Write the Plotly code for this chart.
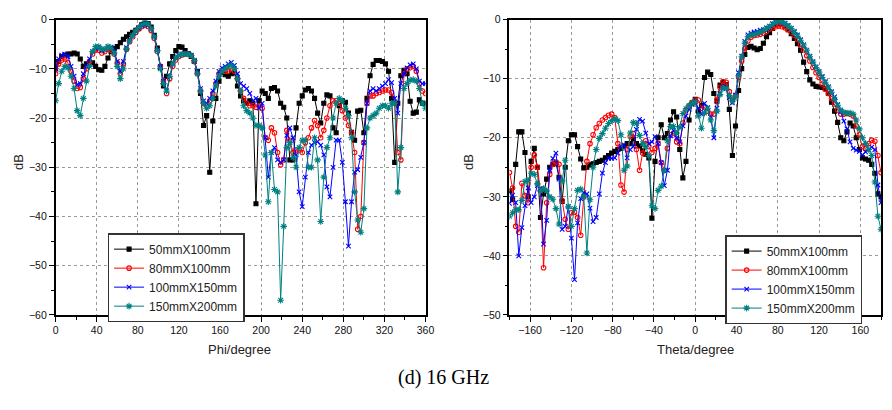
import plotly.graph_objects as go

# ---------------- data ----------------
phi = list(range(0, 361, 3))
theta = list(range(-180, 181, 3))

names = ["50mmX100mm", "80mmX100mm", "100mmX150mm", "150mmX200mm"]

phi_50x100 = [
    -10, -8.5, -7.5, -7.2, -7.0, -7.0, -6.8, -7.0, -8.0, -9.5, -9.0, -8.7, -8.8, -9.5, -10.2, -10.3,
    -9.5, -7.8, -6.5, -5.9, -5.5, -4.7, -4.0, -3.5, -3.0, -2.6, -2.2, -1.7, -1.0, -0.7, -0.8, -1.5,
    -3.2, -5.8, -9.7, -13.5, -11.5, -9.0, -7.5, -6.3, -5.5, -5.6, -6.3, -6.9, -7.5, -8.5, -10.5, -15,
    -21.5, -19.5, -31, -20.6, -16, -12.5, -10.7, -11.2, -11.5, -11.0, -10.8, -13.5, -15.5, -16.5, -17, -16.5,
    -17, -37.4, -16.5, -14.5, -15, -16, -14, -13.8, -14.5, -17, -17.8, -20, -28.5, -28.5, -22, -17,
    -15.5, -14.3, -14, -14.5, -16, -19, -21, -17, -15.3, -15.5, -22, -23, -17.5, -16.5, -16.8, -19,
    -22.9, -24.5, -18.6, -18.4, -23, -16, -11.4, -9.1, -8.3, -8.3, -8.5, -9, -10.5, -16, -29, -17,
    -11.4, -10.3, -11, -16.6, -19, -18.8, -16.3, -17, -17]

phi_80x100 = [
    -11, -9, -8.2, -8.0, -8.8, -10.5, -12.5, -14.0, -13.8, -12, -10, -8.5, -7, -6.2, -6.2, -6.8,
    -6.5, -6.0, -6.2, -7.0, -8.8, -11.0, -9, -6.0, -4.5, -3.5, -2.6, -1.9, -1.4, -1.2, -1.4, -2.2,
    -3.8, -6.5, -9.5, -12.5, -15, -12, -9.5, -8.2, -7.5, -7.2, -7.0, -7.0, -7.3, -8.5, -11, -14.5,
    -17, -17.5, -16.5, -15, -13, -11, -10.3, -10.5, -10.5, -10.0, -10.5, -12, -14.5, -16, -17, -17.5,
    -17.5, -17.8, -17.5, -18, -24, -24.5, -22, -23, -27, -29.5, -28.5, -22.5, -24.5, -27, -26.5, -26.5,
    -27, -25, -24, -22, -20.5, -21.5, -24, -22.5, -20, -17.5, -16.5, -16.5, -17, -18.5, -20, -21.5,
    -23, -27, -42.6, -40, -25, -17, -15.5, -15.5, -15, -14.8, -14.5, -14.3, -14.3, -14.8, -17, -27,
    -28.5, -11, -10, -9.8, -9.5, -10.5, -13, -14.5, -15]

phi_100x150 = [
    -10, -8, -7.2, -7.0, -7.5, -9.5, -11.5, -13.2, -13, -11, -9.5, -8, -6.5, -5.8, -5.7, -6.3,
    -6.0, -5.5, -5.6, -6.4, -8.5, -10.5, -8.5, -5.7, -4.3, -3.3, -2.4, -1.7, -1.2, -1.0, -1.1, -1.9,
    -3.5, -6.2, -9.5, -12.5, -14.5, -11.5, -9, -7.8, -7.2, -7.0, -6.9, -7.0, -7.2, -8.3, -10.5, -14,
    -16.5, -17, -16, -14.5, -12.5, -10.5, -9.8, -9.5, -9.0, -8.7, -9.3, -11, -13, -13.5, -14, -15,
    -16.5, -16, -18, -17, -24, -32, -27, -26, -28.5, -29, -28.5, -23.5, -22, -24, -27.5, -35,
    -38, -32, -27, -25.5, -25, -24.8, -25.5, -27.5, -34, -36, -30, -24.5, -24.5, -29, -37, -46,
    -37, -31, -30.5, -28, -25, -17, -14.5, -14, -14.5, -14, -13.5, -13, -12.2, -12.8, -16, -19,
    -13, -11, -9.8, -9.2, -9.0, -10, -12.5, -13, -13]

phi_150x200 = [
    -16.5, -13, -10.5, -9.5, -9.8, -11.5, -14, -18.5, -19.5, -16, -12.5, -9.5, -6.5, -5.5, -5.5, -6.0,
    -6.0, -5.5, -5.8, -6.8, -9.5, -12, -10, -6.0, -4.3, -3.2, -2.3, -1.6, -1.0, -0.8, -0.9, -1.8,
    -3.5, -6.3, -10, -13, -14.5, -11.5, -9, -7.8, -7.3, -7.0, -7.0, -7.0, -7.3, -8.3, -11, -14.5,
    -17, -18, -17.5, -16, -13.5, -11.5, -10.5, -10, -9.5, -9.3, -10, -12, -14.5, -17.5, -18.5, -19,
    -20, -21.5, -21.5, -22, -27.5, -37, -27, -34.5, -35, -57, -42, -26, -25, -28, -30, -26,
    -24.5, -24.5, -30, -30, -24, -28.5, -41, -32, -26, -24, -20, -17, -16, -16.5, -18, -19.5,
    -24, -35, -40.7, -43.2, -38.4, -22, -20, -19.5, -19, -18, -17.5, -17.5, -18, -17, -17, -35,
    -26, -14, -13, -12.3, -12.2, -12.5, -14, -17, -18]

theta_50x100 = [
    -29, -30.5, -24.5, -19, -19, -22.5, -30, -24, -21.8, -25, -33.5, -29.5, -27, -25, -24.5, -24.3,
    -26.7, -30.8, -25, -20.5, -19.5, -19.5, -21.5, -23.6, -25.1, -25, -24.6, -24.4, -24.2, -24, -23.8, -23.4,
    -23, -22.6, -22.3, -22, -21.8, -21.4, -21, -21, -20.2, -21, -21.4, -22.2, -22.8, -23.4, -33.6, -24,
    -20, -17.8, -20, -19.3, -17, -15.6, -16.5, -22, -26.8, -24, -17, -14.1, -13.5, -15.5, -14.5, -9.8,
    -8.9, -9.3, -12.5, -13.8, -11.1, -10.6, -11, -15.2, -23, -18, -12, -8.3, -5.9, -4.7, -4.5, -4.8,
    -5.1, -4.9, -4.0, -2.9, -2.2, -1.5, -0.9, -0.7, -0.7, -1.1, -1.7, -2.4, -3.2, -4.1, -5.2, -7.2,
    -8.8, -10.2, -10.9, -11.3, -11.4, -11.5, -11.7, -12.5, -14, -15.5, -17.4, -20, -20.5, -19, -17.5, -18,
    -20, -22, -23.4, -23.6, -23.8, -24.5, -26, -29.5, -30]

theta_80x100 = [
    -25.9, -28.5, -35, -36, -27.7, -29.8, -31, -25, -22.9, -25, -28.9, -42, -31, -26.2, -24.5, -24.1,
    -24.5, -30.6, -33.8, -35.5, -32.7, -32.6, -33.5, -36.5, -30, -24, -21, -19.5, -18.3, -17.6, -17, -16.6,
    -16.2, -16, -16.6, -21, -28, -29.2, -22, -19.8, -19.3, -22, -25.5, -22.6, -20.5, -21.5, -22.5, -21.8,
    -21, -24.2, -25.5, -21.8, -19.5, -19.2, -20.7, -21, -17.5, -15.3, -14.6, -14.1, -13.6, -13.6, -15, -14.8,
    -15.5, -16, -16, -13.5, -11.5, -10.5, -10.6, -12.2, -13.6, -12.8, -9.8, -7, -4.9, -3.6, -3.0, -2.7,
    -2.6, -2.5, -2.3, -2.0, -1.6, -1.4, -1.2, -1.1, -1.2, -1.4, -1.7, -2.1, -2.7, -3.4, -4.2, -5.1,
    -6.1, -7.0, -8.1, -9.0, -9.8, -10.9, -11.8, -12.5, -13.4, -14.3, -15.3, -16, -16, -15.9, -16, -16.3,
    -18, -19.5, -21.5, -21.8, -21, -20.4, -20.6, -23, -25.9]

theta_100x150 = [
    -31.1, -29.7, -31, -40, -35.2, -31.5, -28.5, -31, -30, -28.1, -28.6, -38, -34, -25.5, -23.5, -22.6,
    -27, -35.5, -35, -31.6, -37, -44, -34.4, -30.3, -29.3, -29.5, -31.9, -34.2, -33.5, -29.5, -26, -24.2,
    -23.5, -23.5, -23.4, -22.6, -21.4, -21.2, -23.4, -22, -21.5, -18.6, -16.9, -17.2, -19.2, -21, -20.7, -19.8,
    -21, -24.2, -28.1, -25.5, -19.7, -18.8, -20, -20.7, -18, -16.3, -15.2, -14.4, -13.9, -15, -16, -14.2,
    -14.9, -16.5, -20, -15, -12.5, -11.4, -11.7, -13.2, -14.1, -12.8, -9, -6.2, -3.7, -2.6, -2.3, -2.1,
    -2.0, -1.8, -1.7, -1.4, -1.1, -0.7, -0.4, -0.3, -0.4, -0.6, -1.0, -1.5, -2.0, -2.6, -3.4, -4.3,
    -5.2, -6.2, -7.1, -8.0, -8.8, -9.6, -10.5, -11.4, -12.2, -13.1, -14.4, -15.6, -17.2, -18.5, -20.7, -21.8,
    -22.1, -22.3, -22.9, -22.4, -22, -21.6, -22, -28, -31]

theta_150x200 = [
    -33.3, -32.7, -32.2, -32.2, -30.6, -27.4, -27.2, -26, -26.2, -27.8, -29, -28.6, -29, -30, -30.4, -32,
    -34.6, -27.3, -23.8, -31.7, -35, -32, -28.9, -28.7, -30, -39.5, -30.5, -25, -22, -20.1, -19.3, -18.4,
    -17.6, -17.1, -16.8, -17.1, -19.5, -25.5, -24.8, -19.2, -17.4, -17.6, -19.6, -21, -21.5, -23, -31.5, -32,
    -28.9, -28.2, -25.5, -20.5, -18.1, -18.1, -19.2, -18.2, -15.9, -15.1, -14.6, -14.1, -13.9, -16.3, -18.4, -15.8,
    -15, -17, -18.8, -15.5, -12.7, -11.6, -11.6, -12.9, -13.8, -13, -9.5, -6.3, -4, -2.9, -2.6, -2.5,
    -2.3, -2.1, -1.8, -1.5, -1.2, -0.8, -0.4, -0.3, -0.4, -0.7, -1.1, -1.5, -2.2, -2.8, -3.5, -4.3,
    -5.2, -6.3, -7.2, -8.1, -8.9, -9.8, -10.6, -11.4, -12.3, -13.5, -14.5, -15.3, -15.7, -15.8, -15.8, -16,
    -17, -18.5, -20, -21, -22, -23, -27.5, -33.3, -35.5]

phi_series = [phi_50x100, phi_80x100, phi_100x150, phi_150x200]
theta_series = [theta_50x100, theta_80x100, theta_100x150, theta_150x200]

# ---------------- styles ----------------
colors = ["#000000", "#ff0000", "#0000ff", "#008080"]
symbols = ["square", "circle-open", "x-thin-open", "asterisk-open"]
msizes = [4, 4.5, 4.5, 5.5]

W, H = 892, 410
FONT = "Liberation Sans, Arial, sans-serif"

fig = go.Figure()
for i in range(4):
    fig.add_trace(go.Scatter(
        x=phi, y=phi_series[i], name=names[i], mode="lines+markers",
        line=dict(color=colors[i], width=1),
        marker=dict(symbol=symbols[i], size=msizes[i], color=colors[i],
                    line=dict(color=colors[i], width=1.1)),
        xaxis="x", yaxis="y", legend="legend"))
for i in range(4):
    fig.add_trace(go.Scatter(
        x=theta, y=theta_series[i], name=names[i], mode="lines+markers",
        line=dict(color=colors[i], width=1),
        marker=dict(symbol=symbols[i], size=msizes[i], color=colors[i],
                    line=dict(color=colors[i], width=1.1)),
        xaxis="x2", yaxis="y2", legend="legend2"))

ydom = [1 - 318.3 / H, 1 - 14 / H]
xdom1 = [53.3 / W, 428.3 / W]
xdom2 = [513.4 / W, 890.0 / W]

def xax(dom, rng, tick0, anchor):
    return dict(domain=dom, range=rng, anchor=anchor, tick0=tick0, dtick=40,
                ticks="outside", ticklen=5, tickwidth=1.2, tickcolor="#000",
                showline=True, linecolor="#000", linewidth=1.5, mirror=True,
                showgrid=True, gridcolor="#9a9a9a", gridwidth=1, griddash="dot",
                zeroline=False, tickfont=dict(family=FONT, size=10.5, color="#111"),
                minor=dict(dtick=20, ticks="outside", ticklen=3, tickcolor="#000", showgrid=False))

def yax(dom, rng, anchor):
    return dict(domain=dom, range=rng, anchor=anchor, dtick=10,
                ticks="outside", ticklen=5, tickwidth=1.2, tickcolor="#000",
                showline=True, linecolor="#000", linewidth=1.5, mirror=True,
                showgrid=True, gridcolor="#9a9a9a", gridwidth=1, griddash="dot",
                zeroline=False, tickfont=dict(family=FONT, size=10.5, color="#111"),
                minor=dict(dtick=5, ticks="outside", ticklen=3, tickcolor="#000", showgrid=False))

def mirror_x(over, anchor, rng, tick0):
    return dict(overlaying=over, anchor=anchor, side="top", range=rng, tick0=tick0, dtick=40,
                ticks="inside", ticklen=4, tickwidth=1.2, tickcolor="#000",
                showticklabels=False, showgrid=False, showline=False, zeroline=False,
                minor=dict(dtick=20, ticks="inside", ticklen=2.5, tickcolor="#000", showgrid=False))

def mirror_y(over, anchor, rng):
    return dict(overlaying=over, anchor=anchor, side="right", range=rng, dtick=10,
                ticks="inside", ticklen=4, tickwidth=1.2, tickcolor="#000",
                showticklabels=False, showgrid=False, showline=False, zeroline=False,
                minor=dict(dtick=5, ticks="inside", ticklen=2.5, tickcolor="#000", showgrid=False))

leg_common = dict(xanchor="left", yanchor="top", bgcolor="white",
                  bordercolor="#333", borderwidth=1.5,
                  font=dict(family=FONT, size=12, color="#222"),
                  tracegroupgap=0)

fig.update_layout(
    width=W, height=H, margin=dict(l=0, r=0, t=0, b=0),
    paper_bgcolor="white", plot_bgcolor="white",
    xaxis=xax(xdom1, [0, 360], 0, "y"),
    yaxis=yax(ydom, [-60, 0], "x"),
    xaxis2=xax(xdom2, [-180, 180], -160, "y2"),
    yaxis2=yax(ydom, [-50, 0], "x2"),
    xaxis3=mirror_x("x", "y", [0, 360], 0),
    yaxis3=mirror_y("y", "x", [-60, 0]),
    xaxis4=mirror_x("x2", "y2", [-180, 180], -160),
    yaxis4=mirror_y("y2", "x2", [-50, 0]),
    legend=dict(x=106 / W, y=1 - 234 / H, **leg_common),
    legend2=dict(x=732 / W, y=1 - 236 / H, **leg_common),
    showlegend=True,
)

ann_font = dict(family=FONT, size=13, color="#222")
annotations = [
    dict(text="dB", x=15 / W, y=1 - 161 / H, textangle=-90),
    dict(text="Phi/degree", x=240 / W, y=1 - 354 / H),
    dict(text="dB", x=472 / W, y=1 - 161 / H, textangle=-90),
    dict(text="Theta/degree", x=702 / W, y=1 - 354 / H),
]
for a in annotations:
    fig.add_annotation(xref="paper", yref="paper", showarrow=False,
                       xanchor="center", yanchor="middle", font=ann_font, **a)
fig.add_annotation(text="(d) 16 GHz", xref="paper", yref="paper", x=446 / W, y=1 - 383 / H,
                   showarrow=False, xanchor="center", yanchor="middle",
                   font=dict(family="Liberation Serif, Times New Roman, serif", size=20, color="#000"))

fig.write_html("out.html")
